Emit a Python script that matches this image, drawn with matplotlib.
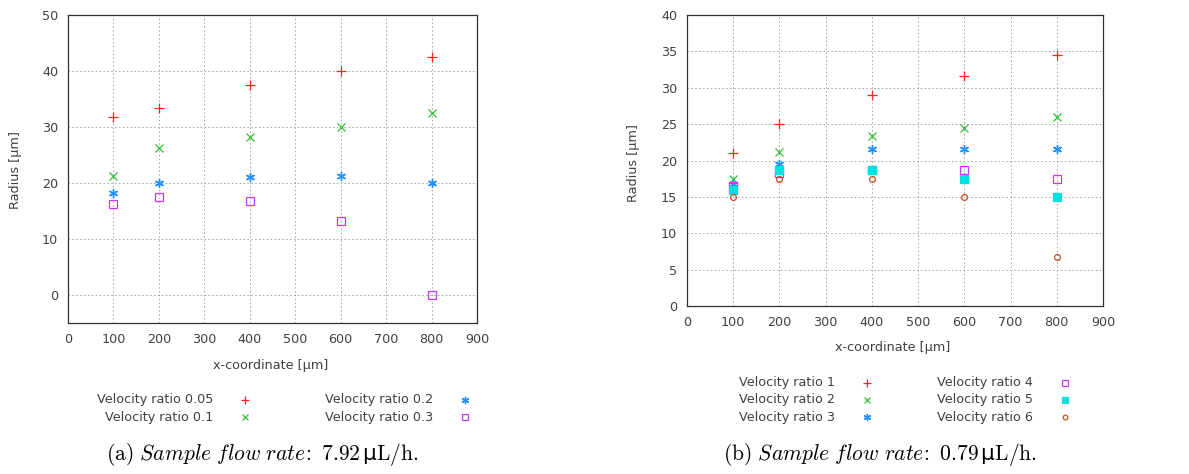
import matplotlib
matplotlib.use("Agg")
import matplotlib.pyplot as plt
from matplotlib.lines import Line2D

plt.rcParams['font.family'] = ['DejaVu Sans']
plt.rcParams['mathtext.fontset'] = 'cm'

# ---------------- data ----------------
x_a = [100, 200, 400, 600, 800]
labels_a = ["Velocity ratio 0.05", "Velocity ratio 0.1", "Velocity ratio 0.2", "Velocity ratio 0.3"]
r_a_005 = [31.8, 33.4, 37.5, 40.0, 42.5]
r_a_01 = [21.2, 26.2, 28.3, 30.0, 32.5]
r_a_02 = [18.3, 20.0, 21.0, 21.2, 20.0]
r_a_03 = [16.2, 17.5, 16.7, 13.3, 0.0]

x_b = [100, 200, 400, 600, 800]
labels_b = ["Velocity ratio 1", "Velocity ratio 2", "Velocity ratio 3",
            "Velocity ratio 4", "Velocity ratio 5", "Velocity ratio 6"]
r_b_1 = [21.0, 25.0, 29.0, 31.6, 34.5]
r_b_2 = [17.5, 21.2, 23.3, 24.5, 26.0]
r_b_3 = [16.8, 19.5, 21.6, 21.6, 21.6]
r_b_4 = [16.5, 18.3, 18.7, 18.7, 17.4]
r_b_5 = [16.0, 18.7, 18.7, 17.4, 15.0]
r_b_6 = [15.0, 17.4, 17.4, 15.0, 6.7]

caption_a = r"$\mathrm{(a)}\ \mathit{Sample\ flow\ rate}\!\mathrm{:}\ \mathrm{7.92\,}$µ$\mathrm{L/h.}$"
caption_b = r"$\mathrm{(b)}\ \mathit{Sample\ flow\ rate}\!\mathrm{:}\ \mathrm{0.79\,}$µ$\mathrm{L/h.}$"

# ---------------- styles ----------------
styles = [
    dict(marker='+', color='#ff2020', ms=6.5, mew=0.9, mfc='none'),
    dict(marker='x', color='#33c033', ms=5.5, mew=0.9, mfc='none'),
    dict(marker=(6, 2, 0), color='#1e90ff', ms=6.5, mew=1.0, mfc='none'),
    dict(marker='s', color='#cc33ff', ms=5.5, mew=0.9, mfc='none'),
    dict(marker='s', color='#00e0e0', ms=6, mew=0.9, mfc='#00e0e0'),
    dict(marker='o', color='#c0501a', ms=4.2, mew=0.9, mfc='none'),
]

W, H = 1189, 474
fig = plt.figure(figsize=(W / 100, H / 100), dpi=100)
txtc = '#404040'
fs = 9.2


def fx(px):
    return px / W


def fy(py):
    return 1 - py / H


def style_ax(ax, ylim, yticks):
    ax.set_xlim(0, 900)
    ax.set_ylim(*ylim)
    ax.set_xticks(range(0, 1000, 100))
    ax.set_yticks(yticks)
    ax.grid(True, color='#a0a0a0', linestyle=(0, (1.5, 2.5)), linewidth=0.7)
    ax.tick_params(direction='in', length=0, labelsize=fs, labelcolor=txtc, pad=7)
    for s in ax.spines.values():
        s.set_color('#303030')
        s.set_linewidth(0.9)


# ---------------- panel (a) ----------------
ax1 = fig.add_axes([fx(68), fy(323), fx(477 - 68), (323 - 15) / H])
series_a = [r_a_005, r_a_01, r_a_02, r_a_03]
for i, ys in enumerate(series_a):
    ax1.plot(x_a, ys, linestyle='none', **styles[i])
style_ax(ax1, (-5, 50), range(0, 51, 10))

fig.text(fx(16), fy(170), "Radius [µm]", rotation=90, ha='center', va='center', fontsize=fs, color=txtc)
fig.text(fx(271), fy(366), "x-coordinate [µm]", ha='center', va='center', fontsize=fs, color=txtc)

# legend (a)
leg_a = [(213, 245, 399.5), (213, 245, 417), (433, 465, 399.5), (433, 465, 417)]
for i, (tx, mx, yy) in enumerate(leg_a):
    fig.text(fx(tx), fy(yy), labels_a[i], ha='right', va='center', fontsize=fs, color=txtc)
    st = dict(styles[i])
    st['ms'] = st['ms'] * 0.8
    fig.add_artist(Line2D([fx(mx)], [fy(yy)], transform=fig.transFigure, linestyle='none', **st))

fig.text(fx(262), fy(455), caption_a, ha='center', va='center', fontsize=15.5, color='black')

# ---------------- panel (b) ----------------
ax2 = fig.add_axes([fx(687), fy(306), fx(1103 - 687), (306 - 15) / H])
series_b = [r_b_1, r_b_2, r_b_3, r_b_4, r_b_5, r_b_6]
for i, ys in enumerate(series_b):
    ax2.plot(x_b, ys, linestyle='none', **styles[i])
style_ax(ax2, (0, 40), range(0, 41, 5))

fig.text(fx(634), fy(163), "Radius [µm]", rotation=90, ha='center', va='center', fontsize=fs, color=txtc)
fig.text(fx(893), fy(348), "x-coordinate [µm]", ha='center', va='center', fontsize=fs, color=txtc)

leg_b = [(835, 867, 382.5), (835, 867, 399.5), (835, 867, 417),
         (1033, 1065, 382.5), (1033, 1065, 399.5), (1033, 1065, 417)]
for i, (tx, mx, yy) in enumerate(leg_b):
    fig.text(fx(tx), fy(yy), labels_b[i], ha='right', va='center', fontsize=fs, color=txtc)
    st = dict(styles[i])
    st['ms'] = st['ms'] * 0.8
    fig.add_artist(Line2D([fx(mx)], [fy(yy)], transform=fig.transFigure, linestyle='none', **st))

fig.text(fx(880), fy(455), caption_b, ha='center', va='center', fontsize=15.5, color='black')

fig.savefig("out.png", dpi=100)
